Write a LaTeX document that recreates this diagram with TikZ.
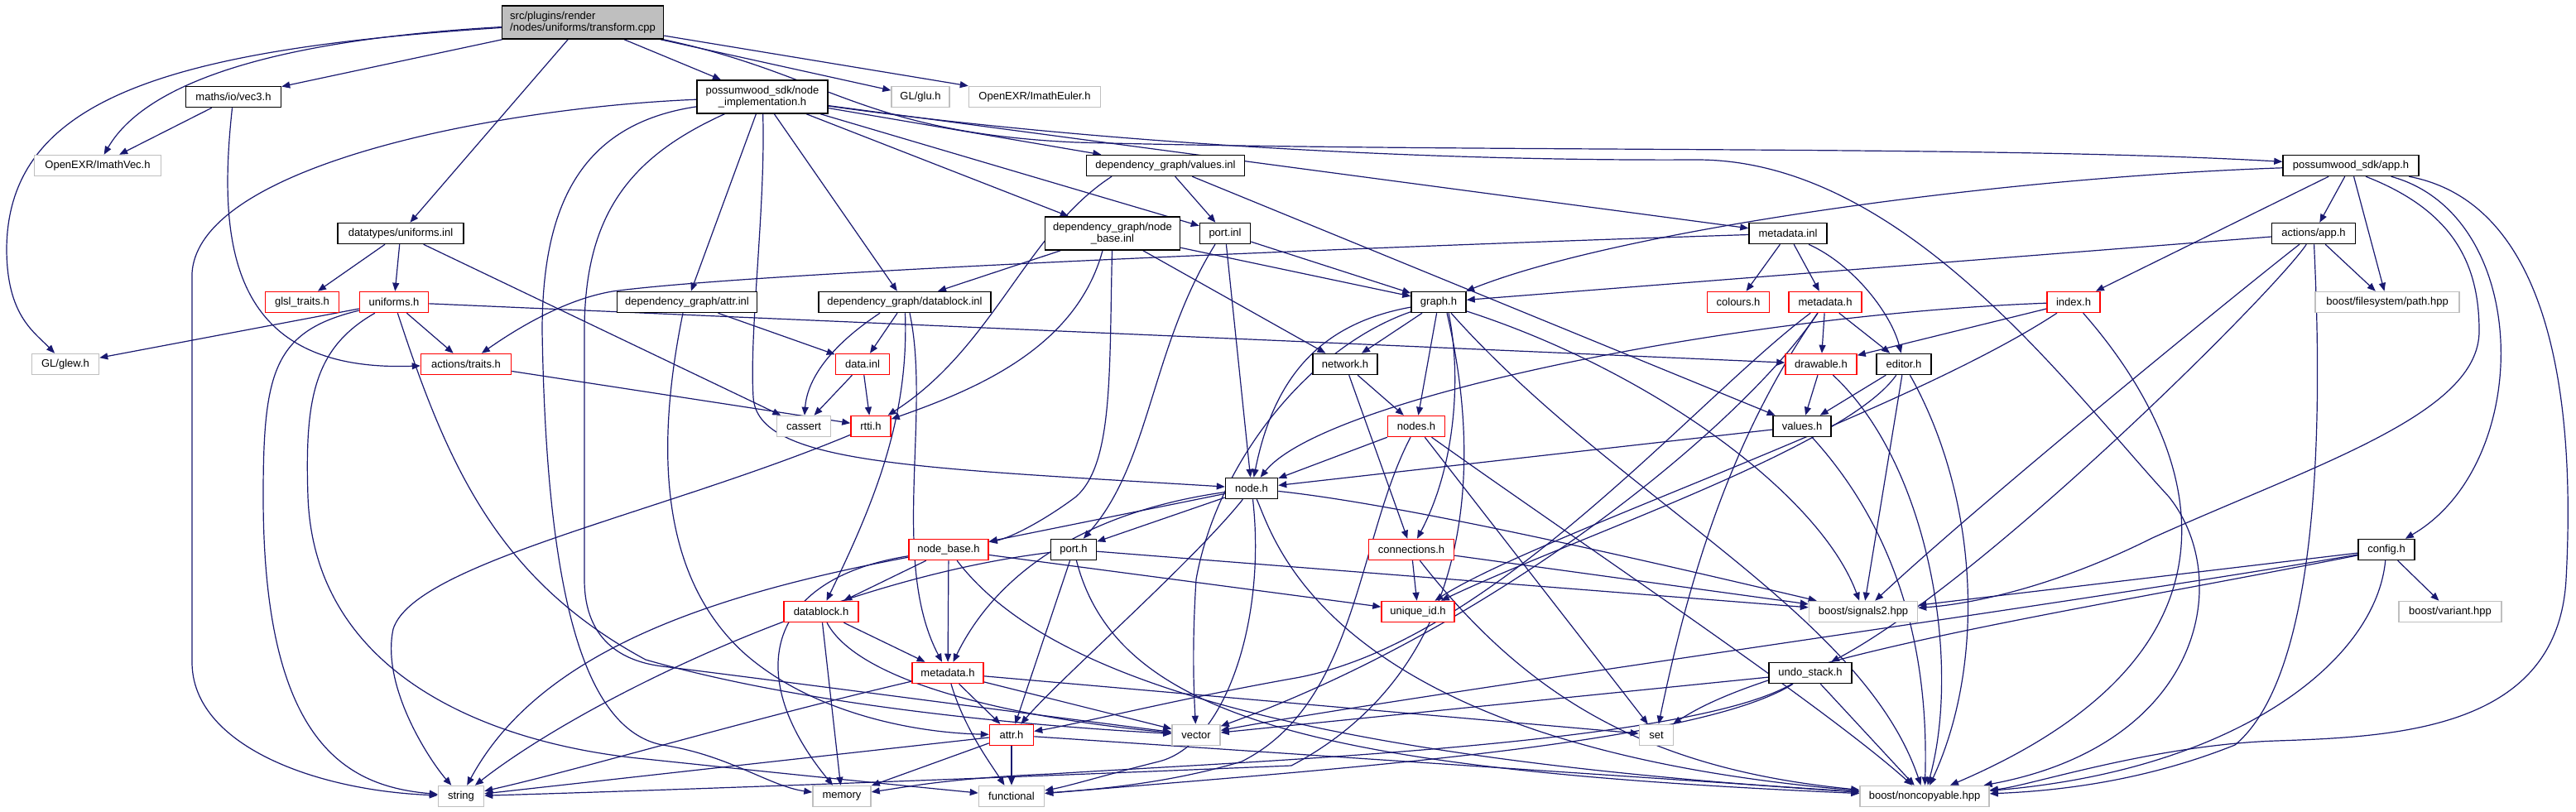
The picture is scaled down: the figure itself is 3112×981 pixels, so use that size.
\documentclass[tikz,border=0pt]{standalone}
\usepackage{fontspec}
\setmainfont{Liberation Sans}
\usetikzlibrary{arrows.meta}
\definecolor{edgecol}{RGB}{25,25,112}
\definecolor{redb}{RGB}{255,0,0}
\definecolor{grayb}{RGB}{191,191,191}
\pgfdeclarelayer{bg}
\pgfdeclarelayer{paper}
\pgfsetlayers{paper,bg,main}
\begin{document}
\begin{tikzpicture}[x=1pt,y=-1pt,
  box/.style={draw=black, line width=1.5pt, fill=white, rectangle, inner sep=0pt, minimum height=25pt, font=\fontsize{13}{14}\selectfont},
  rbox/.style={box, draw=redb},
  gbox/.style={box, draw=grayb},
  dep/.style={draw=edgecol, line width=1.2pt, -{Triangle[length=10pt,width=8pt]}}]
\useasboundingbox (0,0) rectangle (3112,981);
\begin{pgfonlayer}{paper}
\fill[white] (0,0) rectangle (3112,981);
\end{pgfonlayer}
% nodes
\node[box, fill=grayb, minimum width=195pt, minimum height=40pt, align=left] (tc) at (704,27) {src/plugins/render\\/nodes/uniforms/transform.cpp};
\node[box, minimum width=115pt] (vec3) at (282,117) {maths/io/vec3.h};
\node[gbox, minimum width=153pt] (imathvec) at (118,200) {OpenEXR/ImathVec.h};
\node[box, minimum width=152pt] (unifinl) at (484,282) {datatypes/uniforms.inl};
\node[box, minimum width=158pt, minimum height=40pt, align=center] (nimpl) at (921,117) {possumwood\_sdk/node\\\_implementation.h};
\node[gbox, minimum width=70pt] (glu) at (1112,117) {GL/glu.h};
\node[gbox, minimum width=159pt] (euler) at (1250,117) {OpenEXR/ImathEuler.h};
\node[box, minimum width=191pt] (valinl) at (1408,200) {dependency\_graph/values.inl};
\node[box, minimum width=163pt, minimum height=40pt, align=center] (nbinl) at (1344,282) {dependency\_graph/node\\\_base.inl};
\node[box, minimum width=61pt] (portinl) at (1480,282) {port.inl};
\node[box, minimum width=94pt] (metainl) at (2160,282) {metadata.inl};
\node[box, minimum width=164pt] (sdkapp) at (2840,200) {possumwood\_sdk/app.h};
\node[box, minimum width=101pt] (actapp) at (2795,282) {actions/app.h};
\node[rbox, minimum width=89pt] (glsl) at (365,365) {glsl\_traits.h};
\node[rbox, minimum width=83pt] (unifh) at (476,365) {uniforms.h};
\node[box, minimum width=169pt] (attrinl) at (830,365) {dependency\_graph/attr.inl};
\node[box, minimum width=208pt] (dbinl) at (1093,365) {dependency\_graph/datablock.inl};
\node[rbox, minimum width=65pt] (datainl) at (1042,440) {data.inl};
\node[gbox, minimum width=65pt] (cassert) at (971,515) {cassert};
\node[rbox, minimum width=48pt] (rtti) at (1052,515) {rtti.h};
\node[gbox, minimum width=81pt] (glew) at (79,440) {GL/glew.h};
\node[rbox, minimum width=109pt] (traits) at (563,440) {actions/traits.h};
\node[box, minimum width=63pt] (nodeh) at (1512,590) {node.h};
\node[box, minimum width=66pt] (graph) at (1738,365) {graph.h};
\node[rbox, minimum width=75pt] (colours) at (2100,365) {colours.h};
\node[rbox, minimum width=88pt] (metah1) at (2205,365) {metadata.h};
\node[box, minimum width=78pt] (network) at (1625,440) {network.h};
\node[rbox, minimum width=86pt] (drawable) at (2200,440) {drawable.h};
\node[box, minimum width=66pt] (editor) at (2300,440) {editor.h};
\node[rbox, minimum width=69pt] (nodes) at (1711,515) {nodes.h};
\node[box, minimum width=70pt] (valuesh) at (2177,515) {values.h};
\node[rbox, minimum width=64pt] (index) at (2505,365) {index.h};
\node[gbox, minimum width=174pt] (path) at (2884,365) {boost/filesystem/path.hpp};
\node[box, minimum width=68pt] (config) at (2883,664) {config.h};
\node[rbox, minimum width=96pt] (nbh) at (1146,664) {node\_base.h};
\node[box, minimum width=55pt] (porth) at (1297,664) {port.h};
\node[rbox, minimum width=103pt] (conn) at (1705,664) {connections.h};
\node[rbox, minimum width=90pt] (dbh) at (992,739) {datablock.h};
\node[rbox, minimum width=88pt] (uid) at (1713,739) {unique\_id.h};
\node[gbox, minimum width=131pt] (sig) at (2251,739) {boost/signals2.hpp};
\node[gbox, minimum width=124pt] (variant) at (2960,739) {boost/variant.hpp};
\node[rbox, minimum width=86pt] (metah2) at (1145,813) {metadata.h};
\node[box, minimum width=100pt] (undo) at (2187,813) {undo\_stack.h};
\node[rbox, minimum width=53pt] (attrh) at (1222,888) {attr.h};
\node[gbox, minimum width=58pt] (vector) at (1445,888) {vector};
\node[gbox, minimum width=41pt] (set) at (2001,888) {set};
\node[gbox, minimum width=55pt] (string) at (557,962) {string};
\node[gbox, minimum width=70pt] (memory) at (1017,962) {memory};
\node[gbox, minimum width=79pt] (functional) at (1222,962) {functional};
\node[gbox, minimum width=156pt] (noncopy) at (2325,962) {boost/noncopyable.hpp};
% edges
\begin{pgfonlayer}{bg}
% transform.cpp
\draw[dep] (tc) -- (vec3);
\draw[dep] (tc) .. controls (300,50) and (170,110) .. (imathvec);
\draw[dep] (tc) .. controls (200,60) and (10,120) .. (8,300) .. controls (8,380) and (40,400) .. (glew);
\draw[dep] (tc) -- (unifinl);
\draw[dep] (tc) -- (nimpl);
\draw[dep] (tc) -- (glu);
\draw[dep] (tc) -- (euler);
\draw[dep] (tc) .. controls (1000,90) and (1040,160) .. (1300,172) .. controls (1800,185) and (2400,175) .. (sdkapp);
% vec3
\draw[dep] (vec3) -- (imathvec);
\draw[dep] (vec3) .. controls (262,300) and (280,450) .. (traits);
% uniforms.inl
\draw[dep] (unifinl) -- (glsl);
\draw[dep] (unifinl) -- (unifh);
\draw[dep] (unifinl) -- (cassert);
% uniforms.h
\draw[dep] (unifh) -- (glew);
\draw[dep] (unifh) -- (traits);
\draw[dep] (unifh) -- (drawable);
\draw[dep] (unifh) .. controls (330,400) and (318,450) .. (318,600) .. controls (318,900) and (420,950) .. (string);
\draw[dep] (unifh) .. controls (380,420) and (368,480) .. (372,600) .. controls (380,820) and (600,900) .. (780,917) .. controls (950,935) and (1100,950) .. (functional);
\draw[dep] (unifh) .. controls (540,560) and (600,700) .. (780,797) .. controls (1000,860) and (1300,880) .. (vector);
% node_implementation.h
\draw[dep] (nimpl) .. controls (600,130) and (240,200) .. (232,330) -- (232,800) .. controls (232,900) and (380,955) .. (string);
\draw[dep] (nimpl) .. controls (700,150) and (655,250) .. (655,400) .. controls (660,700) and (700,880) .. (800,900) .. controls (880,912) and (930,950) .. (memory);
\draw[dep] (nimpl) .. controls (760,190) and (706,260) .. (706,400) -- (706,700) .. controls (706,780) and (760,800) .. (800,805) .. controls (1000,830) and (1300,870) .. (vector);
\draw[dep] (nimpl) -- (attrinl);
\draw[dep] (nimpl) .. controls (925,250) and (905,400) .. (910,480) .. controls (915,560) and (1100,565) .. (nodeh);
\draw[dep] (nimpl) -- (dbinl);
\draw[dep] (nimpl) -- (nbinl);
\draw[dep] (nimpl) -- (valinl);
\draw[dep] (nimpl) -- (portinl);
\draw[dep] (nimpl) -- (metainl);
\draw[dep] (nimpl) .. controls (1300,170) and (1700,195) .. (2050,193) .. controls (2300,193) and (2500,470) .. (2620,600) .. controls (2700,700) and (2660,900) .. (noncopy);
% values.inl
\draw[dep] ([xshift=-65pt]valinl.south) .. controls (1240,280) and (1200,420) .. (rtti);
\draw[dep] (valinl) -- (portinl);
\draw[dep] (valinl) -- (valuesh);
% node_base.inl
\draw[dep] (nbinl) -- (dbinl);
\draw[dep] ([xshift=-12pt]nbinl.south) .. controls (1300,420) and (1180,470) .. (rtti);
\draw[dep] (nbinl) .. controls (1340,450) and (1345,560) .. (1300,600) .. controls (1260,630) and (1220,650) .. (nbh);
\draw[dep] (nbinl) -- (network);
\draw[dep] (nbinl) -- (graph);
% port.inl
\draw[dep] (portinl) -- (graph);
\draw[dep] (portinl) -- (nodeh);
\draw[dep] ([xshift=-12pt]portinl.south) .. controls (1390,420) and (1390,560) .. (porth);
% datablock.inl
\draw[dep] ([xshift=-30pt]dbinl.south) .. controls (1000,420) and (975,460) .. (cassert);
\draw[dep] (dbinl) -- (datainl);
\draw[dep] (dbinl) .. controls (1098,500) and (1060,600) .. (dbh);
\draw[dep] ([xshift=6pt]dbinl.south) .. controls (1125,500) and (1075,680) .. (metah2);
% attr.inl
\draw[dep] (attrinl) -- (datainl);
\draw[dep] ([xshift=-5pt]attrinl.south) .. controls (790,550) and (800,700) .. (900,790) .. controls (980,860) and (1100,885) .. (attrh);
% data.inl, rtti, traits
\draw[dep] (datainl) -- (cassert);
\draw[dep] (datainl) -- (rtti);
\draw[dep] (rtti) .. controls (800,620) and (500,680) .. (475,760) .. controls (460,830) and (520,920) .. (string);
\draw[dep] (traits) -- (rtti);
% metadata.inl
\draw[dep] (metainl) .. controls (1600,300) and (900,330) .. (740,352) .. controls (680,362) and (620,400) .. (traits);
\draw[dep] (metainl) -- (colours);
\draw[dep] (metainl) -- (metah1);
\draw[dep] ([xshift=25pt]metainl.south) .. controls (2240,320) and (2285,380) .. (editor);
% graph.h
\draw[dep] (graph) -- (network);
\draw[dep] (graph) -- (nodes);
\draw[dep] ([xshift=12pt]graph.south) .. controls (1765,450) and (1760,560) .. (conn);
\draw[dep] (graph) .. controls (1600,390) and (1540,450) .. (nodeh);
\draw[dep] (graph) .. controls (1580,420) and (1470,560) .. (1445,700) .. controls (1440,780) and (1442,830) .. (vector);
\draw[dep] ([xshift=15pt]graph.south) .. controls (1950,600) and (2250,740) .. (noncopy);
\draw[dep] (graph) .. controls (2000,450) and (2200,600) .. (sig);
\draw[dep] ([xshift=10pt]graph.south) .. controls (1800,600) and (1760,820) .. (1560,925) .. controls (1200,940) and (800,955) .. (string);
% network, nodes
\draw[dep] (network) -- (nodes);
\draw[dep] (network) -- (conn);
\draw[dep] (nodes) -- (nodeh);
\draw[dep] (nodes) -- (set);
\draw[dep] (nodes) .. controls (1900,650) and (2200,850) .. (noncopy);
\draw[dep] (nodes) .. controls (1640,650) and (1640,850) .. (1500,920) .. controls (1400,950) and (1300,955) .. (functional);
% values.h, drawable, editor
\draw[dep] (valuesh) -- (nodeh);
\draw[dep] (valuesh) .. controls (2300,650) and (2330,800) .. (noncopy);
\draw[dep] (drawable) -- (valuesh);
\draw[dep] (drawable) .. controls (2330,560) and (2370,800) .. (noncopy);
\draw[dep] (editor) -- (valuesh);
\draw[dep] (editor) .. controls (2230,540) and (1900,650) .. (uid);
\draw[dep] (editor) -- (sig);
\draw[dep] (editor) .. controls (2390,600) and (2400,800) .. (noncopy);
% metadata.h (upper)
\draw[dep] (metah1) -- (drawable);
\draw[dep] (metah1) -- (editor);
\draw[dep] (metah1) .. controls (2090,530) and (2040,700) .. (set);
\draw[dep] (metah1) .. controls (2050,480) and (1800,780) .. (1560,820) .. controls (1420,845) and (1300,875) .. (attrh);
\draw[dep] (metah1) .. controls (2100,520) and (1800,760) .. (vector);
% index.h
\draw[dep] (index) -- (drawable);
\draw[dep] (index) .. controls (2100,380) and (1600,480) .. (nodeh);
\draw[dep] (index) .. controls (2300,500) and (1850,650) .. (uid);
\draw[dep] (index) .. controls (2650,530) and (2750,780) .. (noncopy);
% possumwood_sdk/app.h
\draw[dep] (sdkapp) .. controls (2400,215) and (1950,280) .. (graph);
\draw[dep] (sdkapp) -- (actapp);
\draw[dep] (sdkapp) -- (index);
\draw[dep] (sdkapp) -- (path);
\draw[dep] ([xshift=18pt]sdkapp.south) .. controls (2965,255) and (2995,320) .. (2995,400) .. controls (2995,500) and (2800,560) .. (2600,650) .. controls (2480,710) and (2380,730) .. (sig);
\draw[dep] (sdkapp) .. controls (3060,260) and (3062,560) .. (config);
\draw[dep] (sdkapp) .. controls (3105,250) and (3108,550) .. (3100,700) .. controls (3090,880) and (2900,890) .. (2750,895) .. controls (2600,900) and (2450,950) .. (noncopy);
% actions/app.h
\draw[dep] (actapp) -- (graph);
\draw[dep] (actapp) -- (path);
\draw[dep] (actapp) .. controls (2720,340) and (2400,600) .. (sig);
\draw[dep] (actapp) .. controls (2750,350) and (2400,700) .. (undo);
\draw[dep] (actapp) .. controls (2800,400) and (2820,800) .. (2700,900) .. controls (2600,940) and (2500,955) .. (noncopy);
% config.h
\draw[dep] (config) -- (sig);
\draw[dep] (config) .. controls (2500,740) and (2150,790) .. (set);
\draw[dep] (config) -- (variant);
\draw[dep] (config) .. controls (2870,800) and (2700,930) .. (noncopy);
\draw[dep] (config) .. controls (2500,730) and (1700,840) .. (vector);
% undo_stack.h
\draw[dep] (undo) -- (vector);
\draw[dep] (undo) .. controls (2050,900) and (1600,930) .. (functional);
\draw[dep] (undo) -- (noncopy);
\draw[dep] (undo) .. controls (2040,900) and (1500,920) .. (1270,935) .. controls (1150,940) and (1100,950) .. (memory);
% connections.h
\draw[dep] (conn) -- (uid);
\draw[dep] (conn) -- (sig);
\draw[dep] (conn) .. controls (1850,850) and (2000,930) .. (noncopy);
% node.h
\draw[dep] (nodeh) -- (nbh);
\draw[dep] (nodeh) -- (porth);
\draw[dep] (nodeh) .. controls (1300,620) and (1200,700) .. (metah2);
\draw[dep] (nodeh) .. controls (1440,680) and (1280,820) .. (attrh);
\draw[dep] (nodeh) .. controls (1700,610) and (2000,680) .. (sig);
\draw[dep] (nodeh) .. controls (1540,650) and (1600,900) .. (noncopy);
\draw[dep] (nodeh) .. controls (1530,750) and (1480,900) .. (1400,920) .. controls (1340,935) and (1290,950) .. (functional);
% node_base.h
\draw[dep] (nbh) -- (dbh);
\draw[dep] (nbh) -- (metah2);
\draw[dep] (nbh) .. controls (850,720) and (650,790) .. (string);
\draw[dep] (nbh) .. controls (920,700) and (900,820) .. (memory);
\draw[dep] (nbh) -- (uid);
\draw[dep] (nbh) .. controls (1250,800) and (1500,910) .. (noncopy);
% port.h
\draw[dep] (porth) -- (attrh);
\draw[dep] (porth) .. controls (1350,870) and (1600,930) .. (noncopy);
\draw[dep] (porth) -- (sig);
\draw[dep] (porth) .. controls (1000,700) and (700,850) .. (string);
% datablock.h
\draw[dep] (dbh) -- (metah2);
\draw[dep] (dbh) -- (memory);
\draw[dep] (dbh) .. controls (1040,830) and (1250,870) .. (vector);
% metadata.h (lower)
\draw[dep] (metah2) -- (attrh);
\draw[dep] (metah2) .. controls (1165,880) and (1195,920) .. (functional);
\draw[dep] (metah2) -- (vector);
\draw[dep] (metah2) -- (set);
\draw[dep] (metah2) .. controls (900,870) and (700,930) .. (string);
% attr.h
\draw[dep] (attrh) -- (memory);
\draw[dep] (attrh) -- (functional);
\draw[dep] (attrh) -- (string);
\draw[dep] (attrh) -- (noncopy);
\end{pgfonlayer}
\end{tikzpicture}
\end{document}
